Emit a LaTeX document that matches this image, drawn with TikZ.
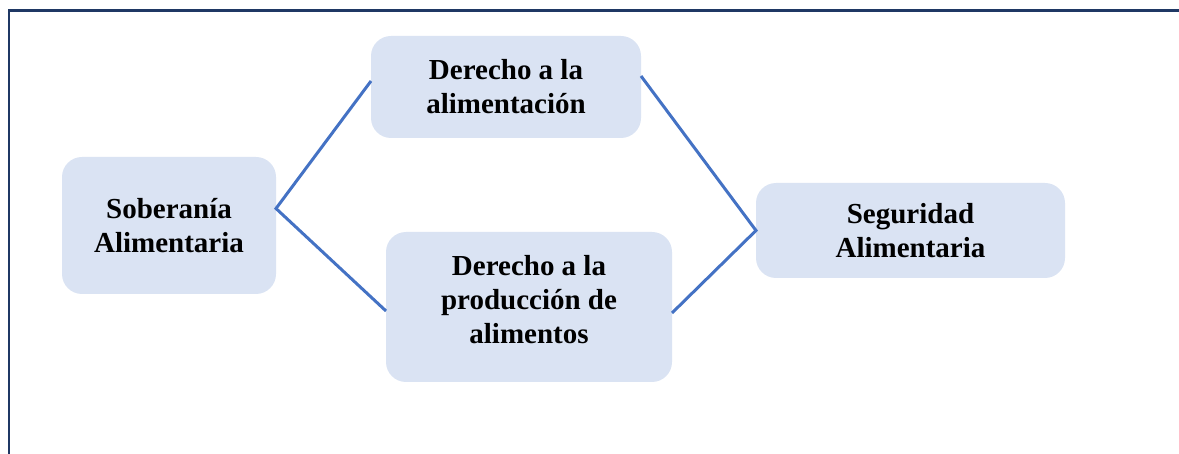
\documentclass[tikz,border=0pt]{standalone}
\usepackage{fontspec}
\setmainfont{Liberation Serif}
\definecolor{boxfill}{RGB}{218,227,243}
\definecolor{linkblue}{RGB}{68,114,196}
\definecolor{frameblue}{RGB}{31,56,100}

\begin{document}
\begin{tikzpicture}[
    x = 1pt,
    y = -1pt,
    concept/.style = {rectangle, rounded corners=20pt, fill=boxfill,
              align=center, inner sep=0pt, outer sep=0pt,
              font=\fontsize{29}{34}\selectfont\bfseries},
    link/.style = {linkblue, line width=3pt},
    ]

\useasboundingbox (0,0) rectangle (1179,454);
\draw [frameblue, line width=2.8pt] (9,470) -- (9,10.5) -- (1195,10.5);

\node[concept, minimum width=214pt, minimum height=137pt] (soberania) at (169,225.5){Soberanía\\Alimentaria};
\node[concept, minimum width=270pt, minimum height=102pt] (derecho_alim) at (506,87){Derecho a la\\alimentación};
\node[concept, minimum width=286pt, minimum height=150pt] (derecho_prod) at (529,307){};
\node[concept, fill=none] (derecho_prod_text) at ([yshift=7pt]derecho_prod.center){Derecho a la\\producción de\\alimentos};
\node[concept, minimum width=309pt, minimum height=95pt] (seguridad) at (910.5,230.5){Seguridad\\Alimentaria};

\coordinate (fork) at ([yshift=17pt]soberania.east);
\draw [link] ([yshift=6pt]derecho_alim.west) -- (fork) -- ([yshift=-4pt]derecho_prod.west);
\draw [link] ([yshift=11pt]derecho_alim.east) -- (seguridad.west) -- ([yshift=-6pt]derecho_prod.east);

\end{tikzpicture}
\end{document}
